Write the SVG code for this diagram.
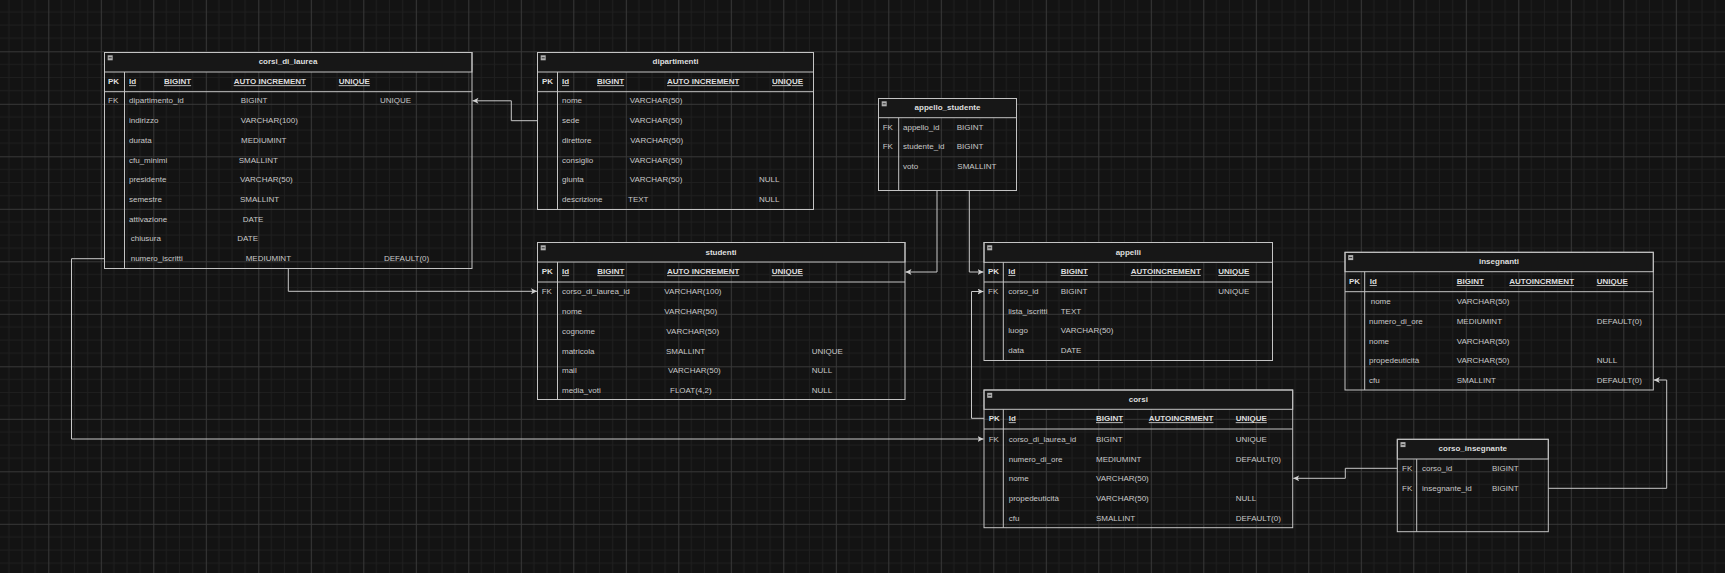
<svg xmlns="http://www.w3.org/2000/svg" width="1725" height="573" viewBox="0 0 1725 573">
<style>
.bx{fill:none;stroke:#c4c4c4;stroke-width:1}
.hd{fill:#171717;stroke:#c4c4c4;stroke-width:1}
.ln{stroke:#c4c4c4;stroke-width:1;fill:none}
.ic{fill:#b0b0b0}
.icl{stroke:#333;stroke-width:1}
text{font-family:"Liberation Sans",Arial,sans-serif;font-size:8px;fill:#c8c8c8}
.tt{font-weight:bold;text-anchor:middle;fill:#dedede}
.k{font-weight:bold;fill:#dedede}
.u{font-weight:bold;text-decoration:underline;fill:#dedede}
.c{stroke:#c8c8c8;stroke-width:1;fill:none;marker-end:url(#ar)}
</style>
<defs>
<pattern id="g" patternUnits="userSpaceOnUse" x="-4.2" y="-1.2" width="52.5" height="52.5">
<rect width="52.5" height="52.5" fill="#131313"/>
<path d="M13.125 0V52.5M26.25 0V52.5M39.375 0V52.5M0 13.125H52.5M0 26.25H52.5M0 39.375H52.5" stroke="#1f1f1f" stroke-width="1"/>
<path d="M0.5 0V52.5M0 0.5H52.5" stroke="#383838" stroke-width="1"/>
</pattern>
<marker id="ar" markerUnits="userSpaceOnUse" markerWidth="7" markerHeight="7" refX="6" refY="3" orient="auto">
<path d="M0,0 L6,3 L0,6 L1.5,3 z" fill="#d0d0d0"/>
</marker>
</defs>
<rect width="1725" height="573" fill="url(#g)"/>

<g id="connectors">
<path class="c" d="M537.5,120.7 H511.3 V100.8 H472.5"/>
<path class="c" d="M288.3,268.5 V291.3 H537"/>
<path class="c" d="M104.5,258.7 H71.5 V439 H983.5"/>
<path class="c" d="M937,190.5 V272 H905.5"/>
<path class="c" d="M969.3,190.5 V272 H983.5"/>
<path class="c" d="M984,418.3 H971.5 V291.5 H983.5"/>
<path class="c" d="M1397.3,468.3 H1345.3 V478.3 H1293.2"/>
<path class="c" d="M1548.3,488.3 H1666.7 V380 H1653.8"/>
</g>

<g id="corsi_di_laurea">
<rect class="hd" x="104.5" y="52.5" width="367.5" height="19.5"/>
<rect class="bx" x="104.5" y="52.5" width="367.5" height="216"/>
<path class="ln" d="M104.5 91.7H472M124.5 72V268.5"/>
<rect class="ic" x="107.7" y="55.3" width="5" height="5"/><path class="icl" d="M108.7 57.8H111.7"/>
<text class="tt" x="288" y="64">corsi_di_laurea</text>
<text class="k" x="108" y="84.3">PK</text><text class="u" x="129" y="84.3">Id</text><text class="u" x="164" y="84.3">BIGINT</text><text class="u" x="233.7" y="84.3">AUTO INCREMENT</text><text class="u" x="338.7" y="84.3">UNIQUE</text>
<text x="108" y="103.3">FK</text><text x="129" y="103.3">dipartimento_id</text><text x="240.7" y="103.3">BIGINT</text><text x="380" y="103.3">UNIQUE</text>
<text x="129" y="123">indirizzo</text><text x="240.7" y="123">VARCHAR(100)</text>
<text x="129" y="143">durata</text><text x="241" y="143">MEDIUMINT</text>
<text x="129" y="162.7">cfu_minimi</text><text x="238.7" y="162.7">SMALLINT</text>
<text x="129" y="182.3">presidente</text><text x="240" y="182.3">VARCHAR(50)</text>
<text x="129" y="202">semestre</text><text x="240" y="202">SMALLINT</text>
<text x="129" y="222">attivazione</text><text x="242.7" y="222">DATE</text>
<text x="130.7" y="241.3">chiusura</text><text x="237.3" y="241.3">DATE</text>
<text x="130.7" y="261.3">numero_iscritti</text><text x="245.7" y="261.3">MEDIUMINT</text><text x="384" y="261.3">DEFAULT(0)</text>
</g>

<g id="dipartimenti">
<rect class="hd" x="537.5" y="52.5" width="276" height="19.5"/>
<rect class="bx" x="537.5" y="52.5" width="276" height="157"/>
<path class="ln" d="M537.5 91.7H813.5M557.5 72V209.5"/>
<rect class="ic" x="540.7" y="55.3" width="5" height="5"/><path class="icl" d="M541.7 57.8H544.7"/>
<text class="tt" x="675.5" y="64">dipartimenti</text>
<text class="k" x="542" y="84.3">PK</text><text class="u" x="562" y="84.3">Id</text><text class="u" x="597" y="84.3">BIGINT</text><text class="u" x="667" y="84.3">AUTO INCREMENT</text><text class="u" x="772" y="84.3">UNIQUE</text>
<text x="562" y="103.3">nome</text><text x="629.7" y="103.3">VARCHAR(50)</text>
<text x="562" y="123">sede</text><text x="629.7" y="123">VARCHAR(50)</text>
<text x="562" y="143">direttore</text><text x="630.3" y="143">VARCHAR(50)</text>
<text x="562" y="162.7">consiglio</text><text x="629.7" y="162.7">VARCHAR(50)</text>
<text x="562" y="182.3">giunta</text><text x="629.7" y="182.3">VARCHAR(50)</text><text x="759" y="182.3">NULL</text>
<text x="562" y="202">descrizione</text><text x="628" y="202">TEXT</text><text x="759" y="202">NULL</text>
</g>

<g id="appello_studente">
<rect class="hd" x="878.5" y="98.5" width="138" height="19.2"/>
<rect class="bx" x="878.5" y="98.5" width="138" height="92"/>
<path class="ln" d="M898.7 117.7V190.5"/>
<rect class="ic" x="881.7" y="101.3" width="5" height="5"/><path class="icl" d="M882.7 103.8H885.7"/>
<text class="tt" x="947.5" y="110.3">appello_studente</text>
<text x="882.7" y="130.3">FK</text><text x="903" y="130.3">appello_id</text><text x="956.7" y="130.3">BIGINT</text>
<text x="882.7" y="149.3">FK</text><text x="903" y="149.3">studente_id</text><text x="956.7" y="149.3">BIGINT</text>
<text x="903" y="169">voto</text><text x="957.3" y="169">SMALLINT</text>
</g>

<g id="studenti">
<rect class="hd" x="537.5" y="242.5" width="367.5" height="19.5"/>
<rect class="bx" x="537.5" y="242.5" width="367.5" height="157"/>
<path class="ln" d="M537.5 282H905M557.5 262V399.5"/>
<rect class="ic" x="540.7" y="245.3" width="5" height="5"/><path class="icl" d="M541.7 247.8H544.7"/>
<text class="tt" x="721" y="254.7">studenti</text>
<text class="k" x="541.7" y="274.3">PK</text><text class="u" x="562" y="274.3">Id</text><text class="u" x="597.3" y="274.3">BIGINT</text><text class="u" x="667" y="274.3">AUTO INCREMENT</text><text class="u" x="771.7" y="274.3">UNIQUE</text>
<text x="541.7" y="294.3">FK</text><text x="562" y="294.3">corso_di_laurea_id</text><text x="664.3" y="294.3">VARCHAR(100)</text>
<text x="562" y="314">nome</text><text x="664.3" y="314">VARCHAR(50)</text>
<text x="562" y="334">cognome</text><text x="666.3" y="334">VARCHAR(50)</text>
<text x="562" y="353.7">matricola</text><text x="666" y="353.7">SMALLINT</text><text x="811.7" y="353.7">UNIQUE</text>
<text x="562" y="373.3">mail</text><text x="668" y="373.3">VARCHAR(50)</text><text x="811.7" y="373.3">NULL</text>
<text x="562" y="392.7">media_voti</text><text x="670" y="392.7">FLOAT(4,2)</text><text x="811.7" y="392.7">NULL</text>
</g>

<g id="appelli">
<rect class="hd" x="984" y="242.5" width="288.5" height="19.8"/>
<rect class="bx" x="984" y="242.5" width="288.5" height="118"/>
<path class="ln" d="M984 282H1272.5M1003.3 262.3V360.5"/>
<rect class="ic" x="987.2" y="245.3" width="5" height="5"/><path class="icl" d="M988.2 247.8H991.2"/>
<text class="tt" x="1128.3" y="254.7">appelli</text>
<text class="k" x="988" y="274">PK</text><text class="u" x="1008.3" y="274">Id</text><text class="u" x="1060.7" y="274">BIGINT</text><text class="u" x="1130.7" y="274">AUTOINCREMENT</text><text class="u" x="1218.3" y="274">UNIQUE</text>
<text x="988" y="294.3">FK</text><text x="1008.3" y="294.3">corso_id</text><text x="1060.7" y="294.3">BIGINT</text><text x="1218.3" y="294.3">UNIQUE</text>
<text x="1008.3" y="313.7">lista_iscritti</text><text x="1060.7" y="313.7">TEXT</text>
<text x="1008.3" y="333.3">luogo</text><text x="1060.7" y="333.3">VARCHAR(50)</text>
<text x="1008.3" y="353">data</text><text x="1060.7" y="353">DATE</text>
</g>

<g id="corsi">
<rect class="hd" x="984" y="390" width="308.7" height="19.3"/>
<rect class="bx" x="984" y="390" width="308.7" height="137.7"/>
<path class="ln" d="M984 429H1292.7M1003.3 409.3V527.7"/>
<rect class="ic" x="987.2" y="392.8" width="5" height="5"/><path class="icl" d="M988.2 395.3H991.2"/>
<text class="tt" x="1138.3" y="402.3">corsi</text>
<text class="k" x="988.7" y="421.3">PK</text><text class="u" x="1008.7" y="421.3">Id</text><text class="u" x="1096" y="421.3">BIGINT</text><text class="u" x="1148.7" y="421.3">AUTOINCRMENT</text><text class="u" x="1235.7" y="421.3">UNIQUE</text>
<text x="988.7" y="442">FK</text><text x="1008.7" y="442">corso_di_laurea_id</text><text x="1096" y="442">BIGINT</text><text x="1235.7" y="442">UNIQUE</text>
<text x="1008.7" y="461.7">numero_di_ore</text><text x="1096" y="461.7">MEDIUMINT</text><text x="1235.7" y="461.7">DEFAULT(0)</text>
<text x="1008.7" y="481.3">nome</text><text x="1096" y="481.3">VARCHAR(50)</text>
<text x="1008.7" y="501">propedeuticità</text><text x="1096" y="501">VARCHAR(50)</text><text x="1235.7" y="501">NULL</text>
<text x="1008.7" y="520.7">cfu</text><text x="1096" y="520.7">SMALLINT</text><text x="1235.7" y="520.7">DEFAULT(0)</text>
</g>

<g id="insegnanti">
<rect class="hd" x="1345" y="252.3" width="308.3" height="19.4"/>
<rect class="bx" x="1345" y="252.3" width="308.3" height="137.7"/>
<path class="ln" d="M1345 291.7H1653.3M1364.7 271.7V390"/>
<rect class="ic" x="1348.2" y="255.1" width="5" height="5"/><path class="icl" d="M1349.2 257.6H1352.2"/>
<text class="tt" x="1499" y="264">insegnanti</text>
<text class="k" x="1349" y="284">PK</text><text class="u" x="1369.7" y="284">Id</text><text class="u" x="1456.7" y="284">BIGINT</text><text class="u" x="1509.3" y="284">AUTOINCRMENT</text><text class="u" x="1596.7" y="284">UNIQUE</text>
<text x="1370.7" y="304.3">nome</text><text x="1456.7" y="304.3">VARCHAR(50)</text>
<text x="1369" y="324">numero_di_ore</text><text x="1456.7" y="324">MEDIUMINT</text><text x="1596.7" y="324">DEFAULT(0)</text>
<text x="1369" y="343.7">nome</text><text x="1456.7" y="343.7">VARCHAR(50)</text>
<text x="1369" y="363.3">propedeuticità</text><text x="1456.7" y="363.3">VARCHAR(50)</text><text x="1596.7" y="363.3">NULL</text>
<text x="1369" y="383">cfu</text><text x="1456.7" y="383">SMALLINT</text><text x="1596.7" y="383">DEFAULT(0)</text>
</g>

<g id="corso_insegnante">
<rect class="hd" x="1397.3" y="439.3" width="151" height="19.7"/>
<rect class="bx" x="1397.3" y="439.3" width="151" height="92.4"/>
<path class="ln" d="M1416.7 459V531.7"/>
<rect class="ic" x="1400.5" y="442.1" width="5" height="5"/><path class="icl" d="M1401.5 444.6H1404.5"/>
<text class="tt" x="1472.8" y="451">corso_insegnante</text>
<text x="1402" y="471.3">FK</text><text x="1422" y="471.3">corso_id</text><text x="1492" y="471.3">BIGINT</text>
<text x="1402" y="491.3">FK</text><text x="1422" y="491.3">insegnante_id</text><text x="1492" y="491.3">BIGINT</text>
</g>
</svg>
